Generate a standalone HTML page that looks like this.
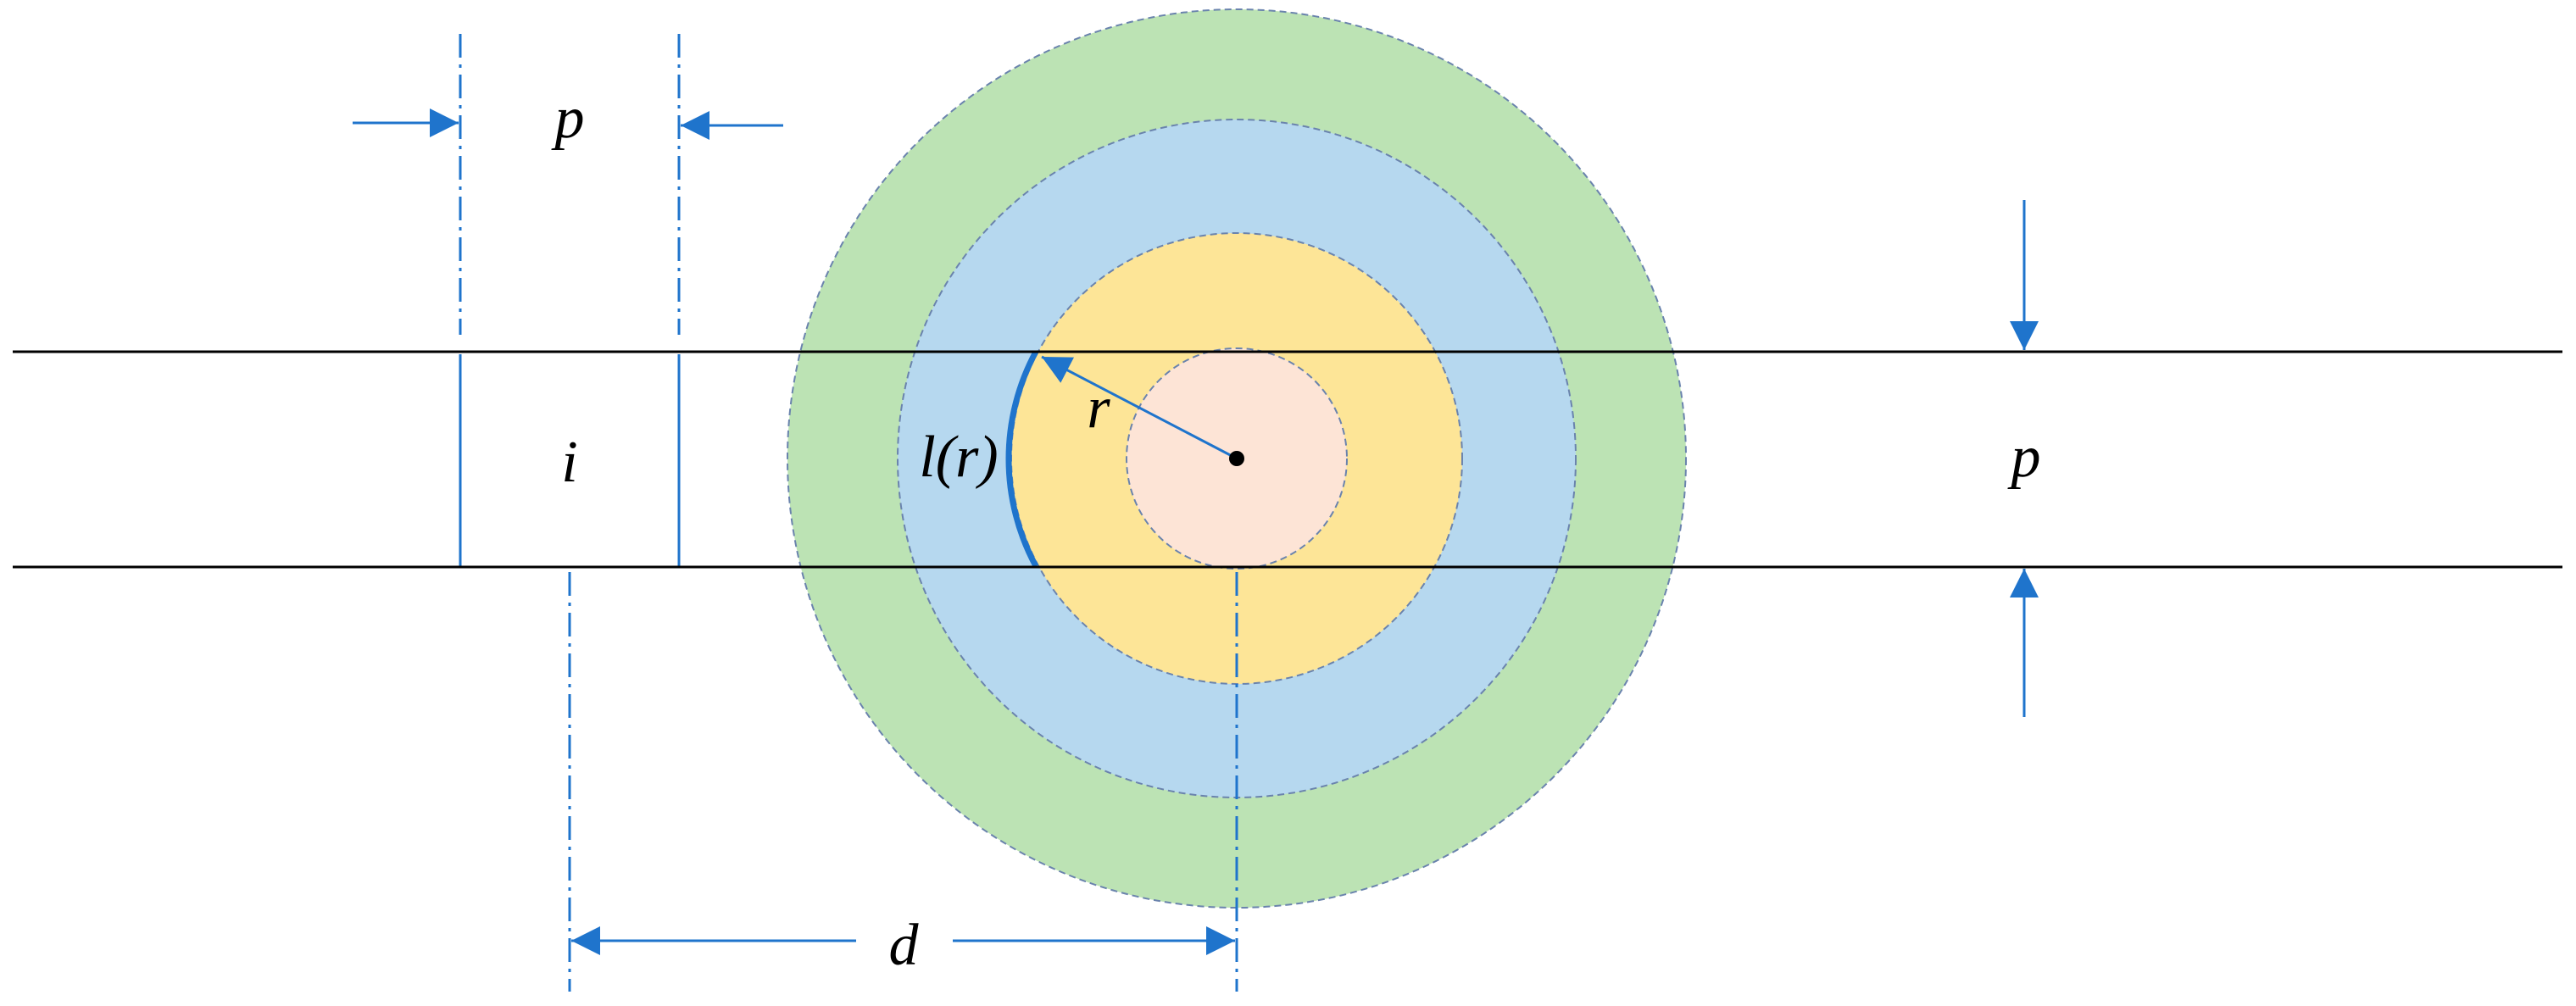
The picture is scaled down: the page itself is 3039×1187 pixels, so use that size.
<!DOCTYPE html>
<html><head><style>body{margin:0;background:#fff}svg{display:block}.t{font-family:'Liberation Serif','DejaVu Serif','Noto Serif CJK SC',serif;font-style:italic}</style></head><body>
<svg width="3039" height="1187" viewBox="0 0 3039 1187" xmlns="http://www.w3.org/2000/svg">
<defs>
<marker id="b" viewBox="0 0 10 10" refX="10" refY="5" markerWidth="38" markerHeight="34" markerUnits="userSpaceOnUse" orient="auto"><path d="M0,0L10,5L0,10z" fill="#1f74cc"/></marker>
</defs>
<g stroke="#6a83ad" stroke-width="2" stroke-dasharray="8,5">
<circle cx="1459" cy="541" r="530" fill="#bce3b4"/>
<circle cx="1459" cy="541" r="400" fill="#b6d8ef"/>
<circle cx="1459" cy="541" r="266" fill="#fde597"/>
<circle cx="1459" cy="541" r="130" fill="#fde4d6"/>
</g>
<g stroke="#1f74cc" stroke-width="3" fill="none">
<path d="M543 40V395M801 40V395M672 675V1170M1459 675V1170" stroke-dasharray="28,8,4,8"/>
<path d="M543 418V668M801 418V668"/>
<line x1="416" y1="145" x2="541" y2="145" marker-end="url(#b)"/>
<line x1="924" y1="148" x2="803" y2="148" marker-end="url(#b)"/>
<line x1="2388" y1="236" x2="2388" y2="413" marker-end="url(#b)"/>
<line x1="2388" y1="846" x2="2388" y2="671" marker-end="url(#b)"/>
<line x1="1010" y1="1110" x2="674" y2="1110" marker-end="url(#b)"/>
<line x1="1124" y1="1110" x2="1457" y2="1110" marker-end="url(#b)"/>
<line x1="1459" y1="541" x2="1229" y2="421" marker-end="url(#b)"/>
<path d="M1222 415A266 266 0 0 0 1222 668" stroke-width="7"/>
</g>
<g stroke="#000" stroke-width="3"><line x1="15" y1="415" x2="3023" y2="415"/><line x1="15" y1="669" x2="3023" y2="669"/></g>
<circle cx="1459" cy="541" r="9" fill="#000"/>
<g class="t" font-size="70" text-anchor="middle" fill="#000">
<text x="672" y="162">p</text>
<text x="672" y="568">i</text>
<text x="2390" y="562">p</text>
<text x="1131" y="562">l(r)</text>
<text x="1296" y="504">r</text>
<text x="1066" y="1138">d</text>
</g>
</svg>
</body></html>
